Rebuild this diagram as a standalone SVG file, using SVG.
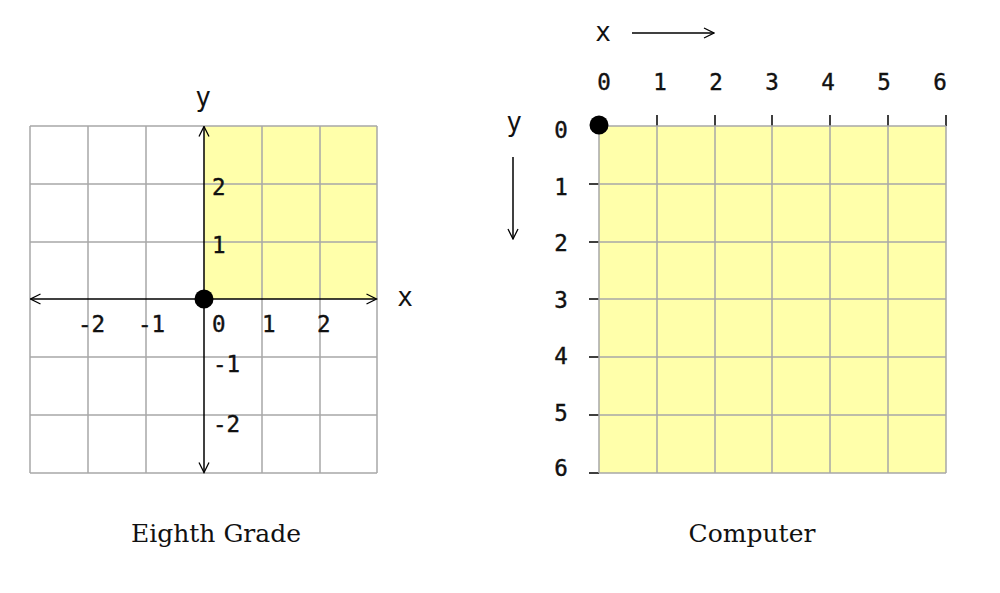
<svg xmlns="http://www.w3.org/2000/svg" width="1000" height="593" viewBox="0 0 1000 593">
<defs>
<style>
.grid{stroke:#a8a8a8;stroke-width:1.5;fill:none}
.axis{stroke:#000;stroke-width:1.5;fill:none}
.num{font-family:"DejaVu Sans Mono","Liberation Mono",monospace;font-size:22.5px;fill:#111;stroke:#111;stroke-width:0.4}
.lbl{font-family:"DejaVu Sans Mono","Liberation Mono",monospace;font-size:26px;fill:#111}
.cap{font-family:"DejaVu Serif","Liberation Serif",serif;font-size:25px;fill:#111}
.yel{fill:#ffffaa}
</style>
<marker id="arr" viewBox="0 0 12 12" refX="11" refY="6" markerWidth="12" markerHeight="12" markerUnits="userSpaceOnUse" orient="auto-start-reverse">
<path d="M1,1 L11,6 L1,11" fill="none" stroke="#000" stroke-width="1.3"/>
</marker>
</defs>
<rect width="1000" height="593" fill="#fff"/>

<g id="left-grid">
<rect class="yel" x="204" y="126" width="173" height="173"/>
<path class="grid" d="M30,126H377M30,184H377M30,242H377M30,357H377M30,415H377M30,473H377M30,126V473M88,126V473M146,126V473M262,126V473M320,126V473M377,126V473"/>
</g>

<g id="connectors">
<line class="axis" x1="204" y1="299" x2="204" y2="126.5" marker-end="url(#arr)"/>
<line class="axis" x1="204" y1="299" x2="204" y2="472.5" marker-end="url(#arr)"/>
<line class="axis" x1="204" y1="299" x2="376.5" y2="299" marker-end="url(#arr)"/>
<line class="axis" x1="204" y1="299" x2="30.5" y2="299" marker-end="url(#arr)"/>
<line class="axis" x1="632" y1="33" x2="714" y2="33" marker-end="url(#arr)"/>
<line class="axis" x1="513" y1="157" x2="513" y2="239" marker-end="url(#arr)"/>
<path class="axis" d="M657,115V126M715,115V126M772,115V126M830,115V126M888,115V126M946,115V126M589,184H599M589,242H599M589,299H599M589,357H599M589,415H599M589,473H599"/>
</g>

<g id="left-origin"><circle cx="204" cy="299" r="9.5" fill="#000"/></g>

<g id="left-labels">
<text class="lbl" x="203" y="106" text-anchor="middle">y</text>
<text class="lbl" x="405" y="306" text-anchor="middle">x</text>
<text class="num" x="212" y="195">2</text>
<text class="num" x="212" y="253">1</text>
<text class="num" x="212" y="332">0</text>
<text class="num" x="262" y="332">1</text>
<text class="num" x="317" y="332">2</text>
<text class="num" x="78" y="332">-2</text>
<text class="num" x="138" y="332">-1</text>
<text class="num" x="213" y="372">-1</text>
<text class="num" x="213" y="432">-2</text>
</g>

<g id="right-grid">
<rect class="yel" x="599" y="126" width="347" height="347"/>
<path class="grid" d="M599,126H946M599,184H946M599,242H946M599,299H946M599,357H946M599,415H946M599,473H946M599,126V473M657,126V473M715,126V473M772,126V473M830,126V473M888,126V473M946,126V473"/>
</g>

<g id="right-origin"><circle cx="599" cy="125" r="9.5" fill="#000"/></g>

<g id="right-labels">
<text class="lbl" x="603" y="41" text-anchor="middle">x</text>
<text class="lbl" x="514" y="131" text-anchor="middle">y</text>
<text class="num" x="604" y="90" text-anchor="middle">0</text>
<text class="num" x="660" y="90" text-anchor="middle">1</text>
<text class="num" x="716" y="90" text-anchor="middle">2</text>
<text class="num" x="772" y="90" text-anchor="middle">3</text>
<text class="num" x="828" y="90" text-anchor="middle">4</text>
<text class="num" x="884" y="90" text-anchor="middle">5</text>
<text class="num" x="940" y="90" text-anchor="middle">6</text>
<text class="num" x="561" y="138" text-anchor="middle">0</text>
<text class="num" x="561" y="195" text-anchor="middle">1</text>
<text class="num" x="561" y="251" text-anchor="middle">2</text>
<text class="num" x="561" y="308" text-anchor="middle">3</text>
<text class="num" x="561" y="364" text-anchor="middle">4</text>
<text class="num" x="561" y="421" text-anchor="middle">5</text>
<text class="num" x="561" y="476" text-anchor="middle">6</text>
</g>

<g id="captions">
<text class="cap" x="216" y="542" text-anchor="middle">Eighth Grade</text>
<text class="cap" x="752" y="542" text-anchor="middle">Computer</text>
</g>
</svg>
